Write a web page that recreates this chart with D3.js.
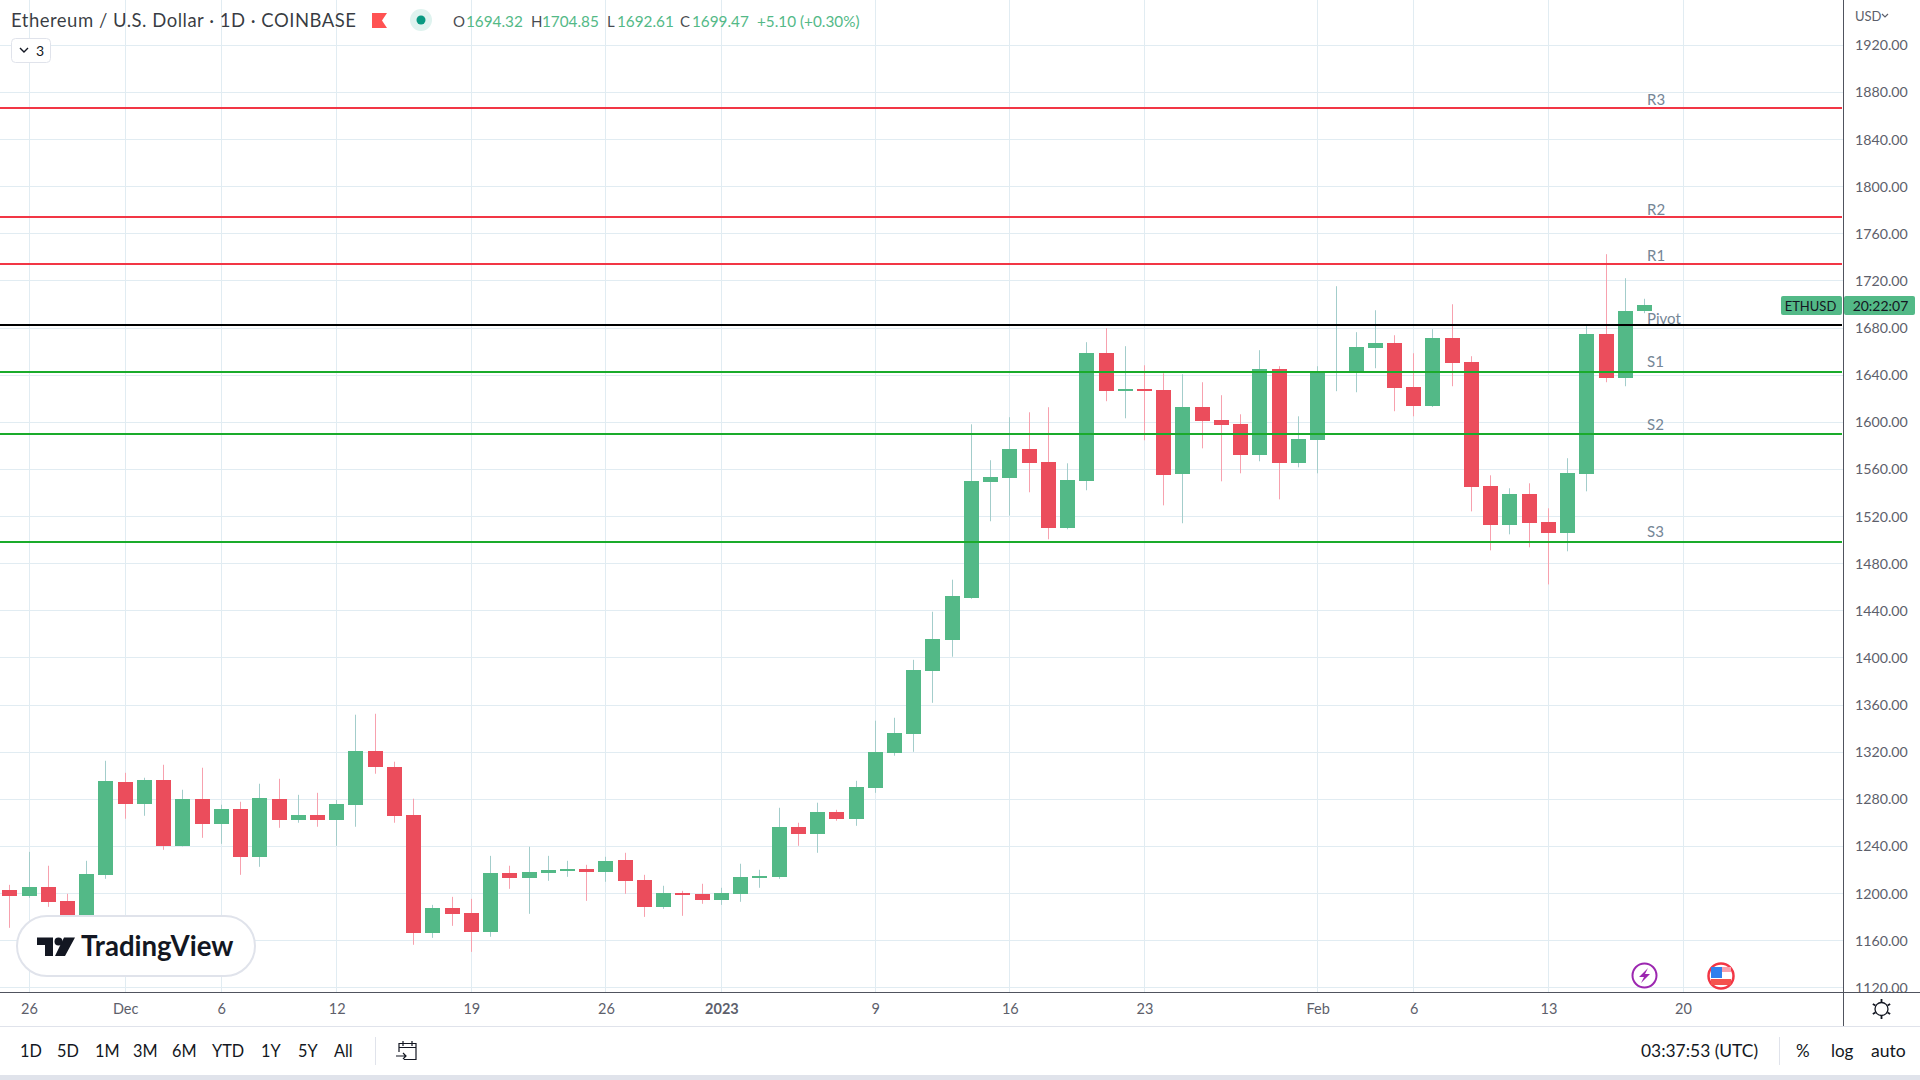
<!DOCTYPE html>
<html>
    <head>
        <meta charset="utf-8">
        <script src="https://d3js.org/d3.v7.min.js"></script>
        <style>
            html, body { margin: 0; padding: 0; background: #fff; overflow: hidden; }
            svg { display: block; font-family: Lato, "Open Sans", sans-serif; }
            .tick text { font-family: Lato, "Open Sans", sans-serif; }
        </style>
    </head>
    <body>
        <svg width="1920" height="1080"></svg>
        <script>
            // one entry per daily candle
            var days = [
                '2022-11-25','2022-11-26','2022-11-27','2022-11-28','2022-11-29','2022-11-30',
                '2022-12-01','2022-12-02','2022-12-03','2022-12-04','2022-12-05','2022-12-06','2022-12-07','2022-12-08','2022-12-09','2022-12-10',
                '2022-12-11','2022-12-12','2022-12-13','2022-12-14','2022-12-15','2022-12-16','2022-12-17','2022-12-18','2022-12-19','2022-12-20',
                '2022-12-21','2022-12-22','2022-12-23','2022-12-24','2022-12-25','2022-12-26','2022-12-27','2022-12-28','2022-12-29','2022-12-30','2022-12-31',
                '2023-01-01','2023-01-02','2023-01-03','2023-01-04','2023-01-05','2023-01-06','2023-01-07','2023-01-08','2023-01-09','2023-01-10',
                '2023-01-11','2023-01-12','2023-01-13','2023-01-14','2023-01-15','2023-01-16','2023-01-17','2023-01-18','2023-01-19','2023-01-20',
                '2023-01-21','2023-01-22','2023-01-23','2023-01-24','2023-01-25','2023-01-26','2023-01-27','2023-01-28','2023-01-29','2023-01-30','2023-01-31',
                '2023-02-01','2023-02-02','2023-02-03','2023-02-04','2023-02-05','2023-02-06','2023-02-07','2023-02-08','2023-02-09','2023-02-10',
                '2023-02-11','2023-02-12','2023-02-13','2023-02-14','2023-02-15','2023-02-16','2023-02-17','2023-02-18'
            ];
            var opens = [
                1203.2,1198.1,1205.7,1193.8,1172.0,1215.9,
                1294.9,1276.2,1296.6,1240.5,1280.5,1259.2,1272.0,1231.2,1280.5,1262.6,
                1266.9,1262.6,1275.4,1321.2,1307.6,1266.9,1166.7,1187.9,1183.6,1167.5,
                1217.6,1213.4,1217.6,1219.3,1221.0,1218.5,1228.7,1211.7,1188.7,1200.6,1199.8,
                1194.7,1199.8,1213.4,1214.2,1256.7,1250.7,1269.4,1263.5,1289.8,1319.5,
                1335.6,1389.1,1415.4,1451.1,1549.1,1552.5,1577.1,1566.1,1510.0,1549.9,
                1658.6,1626.4,1628.1,1627.2,1555.9,1612.8,1601.7,1598.3,1572.0,1645.0,1565.2,
                1584.7,1641.9,1643.0,1662.9,1667.1,1629.8,1613.6,1671.4,1651.0,1545.7,
                1512.6,1538.9,1515.1,1505.8,1555.9,1674.8,1637.4,1694.32
            ];
            var highs = [
                1207.4,1235.4,1223.6,1199.8,1227.8,1312.7,
                1302.5,1298.3,1309.3,1288.1,1306.8,1275.4,1277.9,1293.2,1297.4,1283.8,
                1285.5,1279.6,1351.8,1352.6,1311.9,1280.5,1190.4,1197.2,1195.5,1232.0,
                1223.6,1239.7,1232.0,1227.8,1224.4,1231.2,1234.6,1215.9,1206.6,1202.3,1208.3,
                1204.9,1225.3,1220.2,1272.8,1260.1,1277.1,1271.1,1295.7,1346.7,1349.2,
                1398.4,1439.2,1466.4,1598.3,1567.8,1604.3,1608.5,1612.8,1565.2,1668.0,
                1679.9,1664.6,1648.4,1641.6,1640.8,1634.0,1623.0,1606.8,1661.2,1647.6,1605.1,
                1647.6,1715.5,1676.5,1695.1,1673.9,1658.6,1679.0,1700.2,1656.1,1555.0,
                1544.0,1548.2,1527.0,1569.5,1681.6,1742.7,1722.3,1704.85
            ];
            var lows = [
                1170.9,1196.4,1188.7,1160.0,1165.0,1212.5,
                1263.5,1266.0,1237.1,1240.0,1247.3,1242.2,1215.9,1222.7,1255.8,1260.1,
                1256.7,1240.5,1256.7,1301.7,1260.1,1156.5,1162.4,1172.6,1150.5,1163.3,
                1204.0,1182.8,1210.8,1214.2,1193.8,1210.0,1199.8,1180.2,1187.0,1181.1,1191.3,
                1190.4,1193.0,1204.9,1212.5,1240.5,1234.6,1261.8,1257.5,1285.5,1317.0,
                1320.3,1361.9,1401.0,1450.2,1516.0,1520.8,1540.6,1500.7,1509.2,1542.3,
                1617.9,1603.4,1584.7,1529.5,1514.3,1577.9,1549.9,1556.7,1566.9,1534.6,1561.8,
                1556.7,1626.4,1625.5,1645.9,1609.4,1605.1,1613.0,1630.6,1524.4,1491.3,
                1504.9,1493.9,1462.4,1490.5,1541.4,1634.0,1630.6,1692.61
            ];
            var closes = [
                1198.1,1205.7,1193.0,1172.0,1216.8,1295.7,
                1276.2,1296.6,1240.5,1280.5,1259.2,1272.0,1231.2,1281.3,1262.6,1266.9,
                1262.6,1276.2,1321.2,1307.6,1266.0,1166.7,1187.9,1182.8,1167.5,1217.6,
                1213.4,1218.5,1220.2,1221.0,1218.5,1227.8,1210.8,1188.7,1200.6,1198.9,1194.7,
                1200.6,1214.2,1215.1,1256.7,1250.7,1269.4,1263.5,1290.6,1320.4,1336.5,
                1389.9,1416.2,1452.8,1549.9,1553.3,1577.1,1565.2,1510.0,1550.8,1658.6,
                1626.4,1628.1,1626.4,1555.0,1612.8,1600.9,1597.5,1572.0,1645.0,1565.2,1585.6,
                1643.3,1643.1,1663.7,1667.1,1628.9,1613.6,1671.4,1650.1,1544.8,1512.6,
                1538.9,1514.3,1505.8,1556.7,1674.8,1637.4,1694.3,1699.47
            ];

            var pivotNames = ['R3', 'R2', 'R1', 'Pivot', 'S1', 'S2', 'S3'];
            var pivotValues = [1866.8, 1774.0, 1734.4, 1682.6, 1642.5, 1589.9, 1498.2];

            var priceTicks = [1920, 1880, 1840, 1800, 1760, 1720, 1680, 1640, 1600, 1560, 1520, 1480,
                1440, 1400, 1360, 1320, 1280, 1240, 1200, 1160, 1120];
            var timeTicks = ['2022-11-26', '2022-12-01', '2022-12-06', '2022-12-12', '2022-12-19', '2022-12-26',
                '2023-01-01', '2023-01-09', '2023-01-16', '2023-01-23', '2023-02-01', '2023-02-06', '2023-02-13', '2023-02-20'];
            var timeLabels = ['26', 'Dec', '6', '12', '19', '26', '2023', '9', '16', '23', 'Feb', '6', '13', '20'];
            var rangeLabels = ['1D', '5D', '1M', '3M', '6M', 'YTD', '1Y', '5Y', 'All'];

            var paneRight = 1843, paneBottom = 992;
            var upColor = '#53b987', downColor = '#eb4d5c';
            var upWick = '#a3cdcb', downWick = '#f7a1ae';
            var gridColor = '#e1ecf2', textColor = '#131722', axisText = '#5d606b';
            var parse = d3.utcParse('%Y-%m-%d');
            var crisp = v => Math.floor(v) + 0.5;

            var x = d3.scaleUtc()
                .domain([parse('2022-11-26'), parse('2023-02-20')])
                .range([29, 1683]);
            var y = d3.scaleLinear()
                .domain([1920, 1120])
                .range([45.3, 987.8]);

            var candles = days.map((d, i) => ({
                day: parse(d), open: opens[i], high: highs[i], low: lows[i], close: closes[i],
                up: closes[i] >= opens[i]
            }));

            var svg = d3.select('svg');
            svg.append('defs').append('clipPath').attr('id', 'axisClip')
                .append('rect').attr('x', paneRight).attr('y', 0).attr('width', 77).attr('height', paneBottom);
            svg.append('rect').attr('width', 1920).attr('height', 1080).attr('fill', '#fff');

            // grid
            var grid = svg.append('g');
            grid.selectAll('.hgrid').data(priceTicks).enter().append('line')
                .attr('x1', 0).attr('x2', paneRight)
                .attr('y1', d => crisp(y(d))).attr('y2', d => crisp(y(d)))
                .attr('stroke', gridColor);
            grid.selectAll('.vgrid').data(timeTicks).enter().append('line')
                .attr('x1', d => crisp(x(parse(d)))).attr('x2', d => crisp(x(parse(d))))
                .attr('y1', 0).attr('y2', paneBottom)
                .attr('stroke', gridColor);

            // candles
            var candle = svg.append('g').selectAll('g').data(candles).enter().append('g');
            candle.append('line')
                .attr('x1', d => crisp(x(d.day))).attr('x2', d => crisp(x(d.day)))
                .attr('y1', d => y(d.high)).attr('y2', d => y(d.low))
                .attr('stroke', d => d.up ? upWick : downWick);
            candle.append('rect')
                .attr('x', d => crisp(x(d.day)) - 7.5)
                .attr('width', 15)
                .attr('y', d => Math.round(y(Math.max(d.open, d.close))))
                .attr('height', d => Math.max(1, Math.round(y(Math.min(d.open, d.close))) - Math.round(y(Math.max(d.open, d.close)))))
                .attr('fill', d => d.up ? upColor : downColor);

            // pivot lines
            var pivotColors = ['#f23645', '#f23645', '#f23645', '#000000', '#1aab2b', '#1aab2b', '#1aab2b'];
            var pivotLift = [3, 2, 3.5, 1.5, 5, 4, 5];
            pivotValues.forEach((v, i) => {
                svg.append('line')
                    .attr('x1', 0).attr('x2', paneRight - 1)
                    .attr('y1', Math.round(y(v))).attr('y2', Math.round(y(v)))
                    .attr('stroke', pivotColors[i]).attr('stroke-width', 2);
                svg.append('text')
                    .attr('x', 1647).attr('y', Math.round(y(v)) - pivotLift[i])
                    .attr('font-size', 15).attr('fill', '#758696')
                    .text(pivotNames[i]);
            });

            // price axis
            var yAxis = d3.axisRight(y)
                .tickValues(priceTicks)
                .tickSize(0)
                .tickPadding(12)
                .tickFormat(d3.format('.2f'));
            var yg = svg.append('g').attr('clip-path', 'url(#axisClip)')
                .append('g')
                .attr('transform', 'translate(' + paneRight + ',0)')
                .call(yAxis);
            yg.select('.domain').remove();
            yg.selectAll('text').attr('font-size', 14.2).attr('fill', axisText);

            // time axis
            var xAxis = d3.axisBottom(x)
                .tickValues(timeTicks.map(parse))
                .tickSize(0)
                .tickPadding(12)
                .tickFormat((d, i) => timeLabels[i]);
            var xg = svg.append('g')
                .attr('transform', 'translate(0,' + paneBottom + ')')
                .call(xAxis);
            xg.select('.domain').remove();
            xg.selectAll('text').attr('font-size', 14.5).attr('fill', axisText)
                .attr('font-weight', (d, i) => timeLabels[i] === '2023' ? 700 : 400);

            // pane borders
            svg.append('line').attr('x1', 0).attr('x2', 1920).attr('y1', 992.5).attr('y2', 992.5).attr('stroke', '#50535e');
            svg.append('line').attr('x1', 1843.5).attr('x2', 1843.5).attr('y1', 0).attr('y2', 1026).attr('stroke', '#50535e');
            svg.append('line').attr('x1', 0).attr('x2', 1920).attr('y1', 1026.5).attr('y2', 1026.5).attr('stroke', '#e0e3eb');
            svg.append('rect').attr('x', 0).attr('y', 1075).attr('width', 1920).attr('height', 5).attr('fill', '#e0e3eb');

            // legend row
            function label(t, lx, ly, size, fill, anchor) {
                return svg.append('text').attr('x', lx).attr('y', ly)
                    .attr('font-size', size).attr('fill', fill)
                    .attr('text-anchor', anchor || 'start').text(t);
            }
            label('Ethereum / U.S. Dollar · 1D · COINBASE', 11, 27, 18.5, textColor)
                .attr('fill-opacity', 0.85).attr('letter-spacing', 0.5);
            svg.append('path').attr('d', 'M372,13H387L382,20.5L387,28H372Z').attr('fill', '#ff5252');
            svg.append('circle').attr('cx', 421).attr('cy', 20).attr('r', 11).attr('fill', '#dff3ef');
            svg.append('circle').attr('cx', 421).attr('cy', 20).attr('r', 4.5).attr('fill', '#089981');
            var ohlcHeads = ['O', 'H', 'L', 'C'];
            var ohlcVals = ['1694.32', '1704.85', '1692.61', '1699.47'];
            var ohlcHeadX = [453, 531, 607, 680], ohlcValX = [466, 542, 617, 692];
            ohlcHeads.forEach((h, i) => {
                label(h, ohlcHeadX[i], 27, 15, textColor).attr('fill-opacity', 0.8);
                label(ohlcVals[i], ohlcValX[i], 27, 15.3, upColor);
            });
            label('+5.10 (+0.30%)', 757, 27, 15.3, upColor);
            svg.append('rect').attr('x', 11.5).attr('y', 38.5).attr('width', 39).attr('height', 24).attr('rx', 4)
                .attr('fill', '#fff').attr('stroke', '#e0e3eb');
            svg.append('path').attr('d', 'M20,48L24,52L28,48').attr('fill', 'none').attr('stroke', textColor).attr('stroke-width', 1.4);
            label('3', 36, 56, 14, textColor);

            label('USD', 1855, 21, 13, axisText);
            svg.append('path').attr('d', 'M1882,14L1885,17L1888,14').attr('fill', 'none').attr('stroke', axisText).attr('stroke-width', 1.2);

            // last price tags
            svg.append('rect').attr('x', 1781).attr('y', 296).attr('width', 61).attr('height', 19).attr('rx', 2).attr('fill', upColor);
            svg.append('rect').attr('x', 1844).attr('y', 296).attr('width', 71).attr('height', 19).attr('rx', 2).attr('fill', upColor);
            label('ETHUSD', 1810.5, 311, 13, textColor, 'middle');
            label('20:22:07', 1880.5, 311, 14, textColor, 'middle');

            // event markers
            svg.append('circle').attr('cx', 1644.5).attr('cy', 975.5).attr('r', 12).attr('fill', '#fff').attr('stroke', '#9c27b0').attr('stroke-width', 2);
            svg.append('path').attr('d', 'M1648,968L1639,977H1644L1641,983L1650,974H1645Z').attr('fill', '#9c27b0');
            svg.append('circle').attr('cx', 1721).attr('cy', 976).attr('r', 12.5).attr('fill', '#fff').attr('stroke', '#f23645').attr('stroke-width', 2.5);
            svg.append('rect').attr('x', 1711).attr('y', 967).attr('width', 20).attr('height', 5).attr('fill', '#f7a1ae');
            svg.append('rect').attr('x', 1711).attr('y', 973).attr('width', 20).attr('height', 3).attr('fill', '#fff');
            svg.append('rect').attr('x', 1711).attr('y', 979).attr('width', 20).attr('height', 6).attr('fill', '#f4524d');
            svg.append('rect').attr('x', 1711).attr('y', 967).attr('width', 11).attr('height', 11).attr('fill', '#2f80ed');

            // gear / sun icon
            var sun = svg.append('g').attr('transform', 'translate(1881.5,1009)').attr('fill', 'none').attr('stroke', textColor).attr('stroke-width', 1.3);
            sun.append('circle').attr('r', 6.5);
            d3.range(0, 360, 60).forEach(a => {
                sun.append('line').attr('x1', 0).attr('x2', 0).attr('y1', -7).attr('y2', -10)
                    .attr('transform', 'rotate(' + a + ')').attr('stroke-width', 1.8);
            });

            // bottom toolbar
            var rangeX = [20, 57, 95, 133, 172, 212, 261, 298, 334];
            rangeLabels.forEach((r, i) => label(r, rangeX[i], 1056.5, 16.3, textColor));
            svg.append('line').attr('x1', 375.5).attr('x2', 375.5).attr('y1', 1037).attr('y2', 1065).attr('stroke', '#e0e3eb');
            svg.append('path')
                .attr('d', 'M399,1052V1043.5H416V1059.5H404M399,1047.5H416M403,1041V1046M412,1041V1046M396,1056H406M403,1053L406,1056L403,1059')
                .attr('fill', 'none').attr('stroke', textColor).attr('stroke-width', 1.2);
            label('03:37:53 (UTC)', 1641, 1056.5, 17.4, textColor);
            svg.append('line').attr('x1', 1779.5).attr('x2', 1779.5).attr('y1', 1037).attr('y2', 1065).attr('stroke', '#e0e3eb');
            label('%', 1796, 1057, 17, textColor);
            label('log', 1831, 1056.5, 17, textColor);
            label('auto', 1871, 1056.5, 17.6, textColor);

            // TradingView badge
            svg.append('rect').attr('x', 17).attr('y', 916).attr('width', 238).attr('height', 60).attr('rx', 30)
                .attr('fill', '#fff').attr('stroke', '#e0e3eb').attr('stroke-width', 2);
            svg.append('path').attr('d', 'M37,937.5H53V956H45V945H37ZM64,937.5H75L65,956H55Z').attr('fill', textColor);
            svg.append('circle').attr('cx', 58.5).attr('cy', 941.5).attr('r', 4).attr('fill', textColor);
            label('TradingView', 81, 956, 27.6, textColor).attr('font-weight', 700);
        </script>
    </body>
</html>
